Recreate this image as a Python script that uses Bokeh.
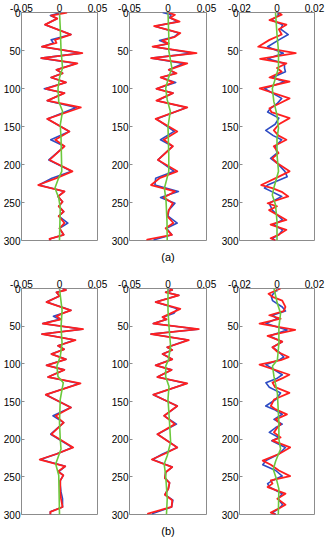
from bokeh.plotting import figure
from bokeh.models import Range1d, FixedTicker, Title
from bokeh.layouts import row, column
from bokeh.embed import file_html
from bokeh.resources import INLINE

# ---------------- tick definitions ----------------
YTICKS = [0, 50, 100, 150, 200, 250, 300]
XTICKS_WIDE = [-0.05, 0, 0.05]
XLABELS_WIDE = ["-0.05", "0", "0.05"]
XTICKS_NARROW = [-0.02, 0, 0.02]
XLABELS_NARROW = ["-0.02", "0", "0.02"]
CAPTIONS = ["(a)", "(b)"]

# ---------------- panel (a)-1 ----------------
a1_depth = [0, 4, 8, 16, 29, 36, 40, 45, 53.5, 60, 67, 75.4, 80, 85.5, 92, 100.4, 106, 116, 125, 140,
            156.5, 167.5, 176, 194, 209, 218, 227, 235.5, 242, 249, 255, 262, 268, 277, 284, 292.5, 298, 300]
a1_red = [0.010, -0.011, -0.003, -0.019, 0.015, -0.006, -0.004, -0.023, 0.030, -0.024, 0.0235, -0.004, 0.004,
          -0.011, 0.0085, -0.018, 0.0065, -0.016, 0.028, -0.016, 0.013, -0.0055, 0.0065, -0.013, 0.017, -0.004,
          -0.028, 0.0065, -0.002, 0.004, -0.001, 0.0055, -0.001, 0.0065, 0.0, 0.0055, -0.013, -0.012]
a1_blue = [0.002, -0.012, -0.003, -0.019, 0.015, -0.011, -0.008, -0.023, 0.029, -0.024, 0.022, -0.004, 0.004,
           -0.011, 0.0085, -0.020, 0.0065, -0.016, 0.022, -0.016, 0.013, -0.0115, 0.0065, -0.014, 0.016, -0.010,
           -0.027, 0.0065, -0.002, 0.004, -0.001, 0.0055, -0.001, 0.011, 0.0, 0.0055, -0.013, -0.012]
a1_gdepth = [0, 20, 49, 73, 86, 100, 117, 130, 148, 165, 209, 220, 231, 244, 257, 300]
a1_green = [0.0, 0.001, 0.002, 0.004, 0.0, -0.002, -0.001, 0.004, 0.001, 0.002, 0.003, -0.002, -0.006,
            -0.001, 0.001, 0.0]

# ---------------- panel (a)-2 ----------------
a2_depth = [0, 3, 7, 12, 18, 27, 32, 37, 41, 45, 53.5, 60, 67, 75.4, 80, 85.5, 92, 100.4, 106, 116, 125, 140,
            156.5, 167.5, 176, 194, 209, 218, 227, 235.5, 243.4, 251, 260, 268, 277, 284, 292.5, 299, 300]
a2_red = [0.0, 0.009, 0.003, 0.015, -0.018, 0.016, 0.009, -0.0075, 0.001, -0.020, 0.037, -0.022, 0.025, 0.001,
          0.011, -0.0095, 0.007, -0.015, 0.0065, -0.015, 0.025, -0.016, 0.012, -0.0055, 0.0063, -0.013, 0.012,
          -0.011, -0.022, 0.009, -0.0055, 0.0063, 0.001, -0.001, 0.007, -0.003, 0.005, -0.027, -0.027]
a2_blue = [-0.007, 0.004, 0.002, 0.013, -0.017, 0.014, 0.008, -0.011, 0.0, -0.019, 0.033, -0.021, 0.020, 0.001,
           0.010, -0.009, 0.010, -0.015, 0.0065, -0.014, 0.024, -0.015, 0.008, -0.0097, 0.006, -0.013, 0.008,
           -0.016, -0.017, 0.0135, -0.0097, 0.009, 0.001, 0.0, 0.012, -0.002, 0.005, -0.018, -0.018]
a2_gdepth = [0, 30, 50, 73, 88, 100, 115, 130, 150, 187, 209, 231, 249, 275, 300]
a2_green = [0.0, 0.001, 0.001, 0.005, 0.0, -0.003, -0.001, 0.003, 0.0, 0.001, 0.001, -0.0046, -0.0025,
            -0.0013, -0.001]

# ---------------- panel (a)-3 ----------------
a3_depth = [0, 3, 10, 16, 22, 29, 36, 45, 53.5, 61, 67, 73, 78, 85.5, 91, 100, 113, 120, 126, 131, 139, 147,
            155, 162, 167.5, 176, 185, 192, 198, 209, 216, 227, 231, 236, 242, 251, 255, 260, 273, 279, 286,
            292.5, 297, 300]
a3_red = [0.0008, 0.0025, -0.004, 0.005, 0.001, 0.0025, -0.004, -0.010, 0.010, -0.009, 0.005, 0.0, 0.0025,
          -0.004, 0.0067, -0.0092, 0.0067, 0.001, -0.004, -0.003, 0.0067, 0.001, -0.0017, 0.0008, 0.005,
          -0.0017, 0.0008, -0.0025, 0.0, 0.0067, 0.001, -0.0084, -0.0025, 0.0025, 0.006, -0.005, 0.0, -0.0042,
          0.005, -0.0034, 0.005, 0.0008, -0.0034, -0.0008]
a3_blue = [0.0008, 0.001, -0.003, 0.003, 0.002, 0.006, 0.001, -0.005, 0.0034, -0.005, 0.004, 0.004, 0.0045,
           -0.0025, 0.004, -0.0067, 0.0025, 0.0, -0.0034, -0.005, 0.001, -0.001, -0.006, -0.002, 0.0025,
           -0.0008, 0.0, -0.0034, 0.0, 0.0042, 0.0054, -0.005, -0.0067, -0.0025, 0.0025, -0.0042, -0.0034,
           -0.0025, 0.003, -0.002, 0.003, 0.001, -0.0025, -0.001]
a3_gdepth = [0, 29, 51, 73, 100, 117, 135, 152, 165, 187, 209, 231, 240, 253, 275, 300]
a3_green = [-0.0008, 0.0, 0.0008, 0.0008, -0.0025, -0.0017, 0.0, 0.0008, 0.0, 0.0, 0.0008, -0.0017, -0.0025,
            -0.0008, 0.0, 0.0]

# ---------------- panel (b)-1 ----------------
b1_depth = [0, 2, 5, 10, 18, 29, 33, 37, 41, 46.5, 54, 60.5, 68.4, 76, 80.7, 87, 94, 102, 108, 117.5, 126,
            141, 158, 169, 178, 193.4, 211, 219.7, 227, 236, 243, 248, 255, 261, 270, 279, 290, 296.5, 300]
b1_red = [0.004, 0.0085, -0.004, 0.0, -0.017, 0.015, 0.004, -0.004, 0.002, -0.022, 0.031, -0.023, 0.021,
          -0.002, 0.006, -0.0106, 0.0085, -0.017, 0.0064, -0.015, 0.0276, -0.018, 0.015, -0.005, 0.0055,
          -0.0106, 0.018, -0.004, -0.026, 0.0076, -0.002, 0.005, 0.001, 0.001, 0.001, 0.002, 0.004, -0.012,
          -0.012]
b1_blue = [0.004, 0.0085, -0.004, 0.0, -0.017, 0.015, 0.004, -0.008, 0.0, -0.022, 0.030, -0.023, 0.020,
           -0.002, 0.006, -0.0106, 0.0085, -0.017, 0.0064, -0.015, 0.026, -0.018, 0.015, -0.0085, 0.0055,
           -0.0115, 0.017, -0.004, -0.025, 0.0076, -0.001, 0.005, 0.001, 0.001, 0.002, 0.004, 0.004, -0.012,
           -0.012]
b1_gdepth = [0, 29, 51, 73, 90, 103, 117, 125, 147, 178, 200, 213, 233, 248, 300]
b1_green = [0.0, 0.0034, 0.002, 0.0034, 0.001, -0.0034, -0.002, 0.005, 0.001, 0.0, 0.001, 0.002, -0.005,
            -0.001, 0.0]

# ---------------- panel (b)-2 ----------------
b2_depth = [0, 2, 5, 9, 18, 27, 33, 38, 41, 46.5, 54, 60.5, 68.4, 78, 81.6, 87, 94, 102, 108, 117.5, 126, 141,
            156, 169, 180, 193.4, 211, 219.7, 227, 237, 244, 251.7, 258, 265.8, 273.7, 281, 290, 298.7, 300]
b2_red = [0.002, 0.0055, -0.003, 0.014, -0.016, 0.016, 0.0034, -0.007, -0.002, -0.019, 0.040, -0.022, 0.027,
          -0.001, 0.0055, -0.007, 0.0055, -0.016, 0.0047, -0.0137, 0.025, -0.019, 0.012, -0.005, 0.009, -0.0137,
          0.012, -0.005, -0.021, 0.0055, -0.003, -0.004, 0.002, 0.0004, -0.004, 0.0055, 0.0047, -0.026, -0.026]
b2_blue = [0.002, 0.0055, -0.003, 0.014, -0.016, 0.012, 0.0077, -0.007, -0.002, -0.019, 0.039, -0.022, 0.026,
           -0.001, 0.0055, -0.007, 0.0055, -0.016, 0.0047, -0.0137, 0.024, -0.019, 0.012, -0.005, 0.011, -0.0137,
           0.012, -0.007, -0.020, 0.0055, -0.003, -0.004, 0.002, 0.0004, -0.004, 0.0064, 0.0047, -0.020, -0.020]
b2_gdepth = [0, 29, 51, 77, 95, 103, 117, 130, 147, 178, 204, 222, 233, 248, 279, 300]
b2_green = [0.0, 0.0, 0.0013, 0.0034, 0.0004, -0.003, -0.003, 0.0013, 0.0, 0.002, 0.0034, -0.001, -0.005,
            -0.003, -0.001, -0.002]

# ---------------- panel (b)-3 ----------------
b3_depth = [0, 7, 11, 16, 24.5, 30, 35.5, 40, 46.5, 55, 63, 70.6, 78, 84, 91, 95, 101, 114.5, 119, 125, 131,
            138.6, 147.4, 156, 160.5, 167, 173.7, 180, 184.6, 191, 197.8, 202, 211, 219.7, 228.5, 234, 241.6,
            249, 254.8, 259, 263.6, 272.4, 279, 287, 292, 297.4, 300]
b3_red = [0.0019, -0.0045, -0.0024, 0.0028, 0.0045, 0.0036, -0.0041, 0.0019, -0.0093, 0.0097, -0.005, 0.0028,
          -0.0024, 0.0002, 0.0062, 0.002, -0.0093, 0.0066, 0.003, -0.0024, -0.001, 0.0066, -0.0016, -0.0033,
          -0.0007, 0.0053, -0.0007, 0.0019, 0.0002, -0.0016, 0.0019, -0.0024, 0.007, 0.001, -0.0076, -0.0033,
          0.001, 0.007, -0.0033, -0.0024, -0.005, 0.0045, 0.0002, 0.0045, 0.001, -0.0033, -0.0007]
b3_blue = [0.0009, -0.002, -0.003, -0.0024, 0.0028, 0.0045, -0.0024, 0.0, -0.0059, 0.0054, -0.0041, 0.0028,
           -0.0024, 0.001, 0.0036, 0.001, -0.0059, 0.0028, 0.0002, -0.0059, -0.0041, 0.0019, -0.0007, -0.006,
           -0.0016, 0.0028, -0.0016, 0.0028, -0.0007, -0.0041, 0.001, -0.0028, 0.0045, 0.001, -0.0059, -0.0076,
           -0.0007, 0.0028, -0.0024, -0.005, -0.0041, 0.0028, 0.0005, 0.003, 0.001, -0.0024, -0.0007]
b3_gdepth = [0, 20, 33, 51, 73, 95, 103, 117, 139, 178, 200, 213, 229, 240, 253, 266, 300]
b3_green = [-0.0016, 0.0002, 0.0019, 0.001, 0.001, 0.0002, -0.0024, -0.0016, 0.0002, 0.001, 0.001, 0.0019,
            -0.0007, -0.002, -0.0003, 0.001, 0.0007]

FONT = "Liberation Sans"
FRAME_COL = "#8c8c8c"
RED = "#ff1f1f"
BLUE = "#2e4cc4"
GREEN = "#6cc83c"


def panel(depth, red, blue, gdepth, green, lim, xt, xl, width, height,
          left, right, top, bottom, caption=None):
    p = figure(width=width, height=height,
               x_range=Range1d(-lim, lim), y_range=Range1d(300, 0),
               output_backend="svg", toolbar_location=None,
               x_axis_location="above",
               min_border_left=left, min_border_right=right,
               min_border_top=top, min_border_bottom=bottom)
    p.grid.visible = False
    p.outline_line_color = FRAME_COL
    p.outline_line_width = 1

    xa = p.xaxis[0]
    xa.ticker = FixedTicker(ticks=xt)
    xa.major_label_overrides = {t: s for t, s in zip(xt, xl)}
    ya = p.yaxis[0]
    ya.ticker = FixedTicker(ticks=YTICKS)
    for ax in (xa, ya):
        ax.axis_line_color = None
        ax.major_tick_in = 3
        ax.major_tick_out = 0
        ax.major_tick_line_color = FRAME_COL
        ax.minor_tick_line_color = None
        ax.major_label_text_font = FONT
        ax.major_label_text_font_size = "10px"
        ax.major_label_text_color = "black"
        ax.major_label_standoff = 1

    p.line(blue, depth, line_color=BLUE, line_width=1.6, line_join="round")
    p.line(red, depth, line_color=RED, line_width=1.8, line_join="round")
    p.line(green, gdepth, line_color=GREEN, line_width=1.6, line_join="round")

    if caption:
        p.add_layout(Title(text=caption, align="center", text_font=FONT,
                           text_font_size="11px", text_font_style="normal",
                           text_color="black", standoff=16), "below")
    return p


# row (a)
HA = 274
fa1 = panel(a1_depth, a1_red, a1_blue, a1_gdepth, a1_green, 0.05, XTICKS_WIDE, XLABELS_WIDE,
            108, HA, 19, 11, 12, 34)
fa2 = panel(a2_depth, a2_red, a2_blue, a2_gdepth, a2_green, 0.05, XTICKS_WIDE, XLABELS_WIDE,
            110, HA, 19, 12, 12, 34, CAPTIONS[0])
fa3 = panel(a3_depth, a3_red, a3_blue, a3_gdepth, a3_green, 0.02, XTICKS_NARROW, XLABELS_NARROW,
            107, HA, 19, 11, 12, 34)
# row (b)
HB = 270
fb1 = panel(b1_depth, b1_red, b1_blue, b1_gdepth, b1_green, 0.05, XTICKS_WIDE, XLABELS_WIDE,
            108, HB, 19, 11, 14, 28)
fb2 = panel(b2_depth, b2_red, b2_blue, b2_gdepth, b2_green, 0.05, XTICKS_WIDE, XLABELS_WIDE,
            110, HB, 19, 12, 14, 28, CAPTIONS[1])
fb3 = panel(b3_depth, b3_red, b3_blue, b3_gdepth, b3_green, 0.02, XTICKS_NARROW, XLABELS_NARROW,
            107, HB, 19, 11, 14, 28)

layout = column(row(fa1, fa2, fa3), row(fb1, fb2, fb3))

open("out.html", "w").write(file_html(layout, INLINE))
